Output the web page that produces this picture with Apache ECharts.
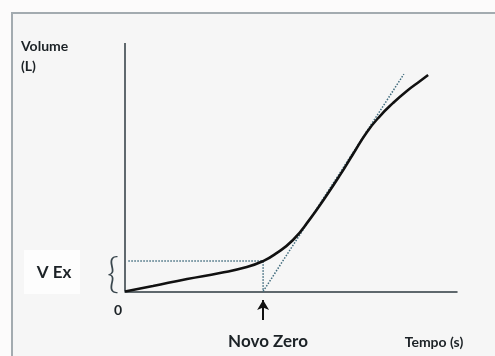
<!DOCTYPE html>
<html><head><meta charset="utf-8">
<script src="https://cdn.jsdelivr.net/npm/echarts@6/dist/echarts.min.js"></script>
<style>html,body{margin:0;padding:0;background:#fcfbfb}#c{width:495px;height:356px}</style>
</head><body><div id="c"></div>
<script>
// Volume curve (arbitrary units)
const curveX = [0, 0.84, 1.87, 2.86, 3.67, 4.16, 4.52, 5.06, 5.57, 6.02, 6.48, 6.87, 7.29, 7.68, 8.07, 8.49, 8.89, 9.13];
const curveY = [0, 0.22, 0.50, 0.74, 0.98, 1.22, 1.50, 2.07, 2.91, 3.76, 4.69, 5.53, 6.42, 7.06, 7.58, 8.07, 8.47, 8.71];
// Back-extrapolation
const vexLevel = 1.22;
const novoZeroX = 4.16;
const tangentX = [4.16, 8.40];
const tangentY = [0, 8.75];
const vexStartX = 0.1;
// Axes extents
const axisXRange = [0, 10];
const axisYRange = [0, 10];
const arrowY = [-1.15, -0.35];
// Labels
const labels = { yName1: 'Volume', yName2: '(L)', vex: 'V Ex', zero: '0', novoZero: 'Novo Zero', xName: 'Tempo (s)' };

const axisColor = '#2e3a40';
const dotColor = '#3f6a7c';
const textColor = '#1c2226';
const font = 'Lato, "Open Sans", sans-serif';

const chart = echarts.init(document.getElementById('c'), null, { renderer: 'canvas' });
const zip = (xs, ys) => xs.map((x, i) => [x, ys[i]]);

chart.setOption({
  animation: false,
  backgroundColor: '#fcfbfb',
  grid: { left: 125, top: 43, right: 38, bottom: 0 },
  xAxis: {
    type: 'value', min: axisXRange[0], max: axisXRange[1],
    axisLine: { show: true, onZero: true, lineStyle: { color: axisColor, width: 1.5 } },
    axisTick: { show: false }, axisLabel: { show: false }, splitLine: { show: false }
  },
  yAxis: {
    type: 'value', min: -2.6, max: axisYRange[1],
    axisLine: { show: false }, axisTick: { show: false }, axisLabel: { show: false }, splitLine: { show: false }
  },
  graphic: [
    { type: 'rect', z: -10, shape: { x: 12, y: 13, width: 600, height: 400 },
      style: { fill: '#f6f6f6', stroke: '#a3abb0', lineWidth: 2 } },
    { type: 'rect', z: -9, shape: { x: 24, y: 250, width: 56, height: 44 }, style: { fill: '#fdfdfd' } },
    { type: 'text', x: 21, y: 46, style: { text: labels.yName1, font: 'bold 14px ' + font, fill: textColor, verticalAlign: 'middle' } },
    { type: 'text', x: 21, y: 66, style: { text: labels.yName2, font: 'bold 14px ' + font, fill: textColor, verticalAlign: 'middle' } },
    { type: 'text', x: 54, y: 273, style: { text: labels.vex, font: 'bold 17px ' + font, fill: textColor, align: 'center', verticalAlign: 'middle' } },
    { type: 'text', x: 113, y: 274, style: { text: '{', font: '300 42px ' + font, fill: '#3a474e', align: 'center', verticalAlign: 'middle' } },
    { type: 'text', x: 118, y: 310, style: { text: labels.zero, font: 'bold 14px ' + font, fill: textColor, align: 'center', verticalAlign: 'middle' } },
    { type: 'text', x: 268, y: 342, style: { text: labels.novoZero, font: 'bold 17px ' + font, fill: textColor, align: 'center', verticalAlign: 'middle' } },
    { type: 'text', x: 434, y: 342, style: { text: labels.xName, font: 'bold 14px ' + font, fill: textColor, align: 'center', verticalAlign: 'middle' } }
  ],
  series: [
    { type: 'line', data: zip(axisXRange.map(() => 0), axisYRange), symbol: 'none',
      lineStyle: { color: axisColor, width: 1.5 }, z: 3 },
    { type: 'line', data: [[vexStartX, vexLevel], [novoZeroX, vexLevel], [novoZeroX, 0]], symbol: 'none',
      lineStyle: { color: dotColor, width: 1.5, type: 'dotted' }, z: 4 },
    { type: 'line', data: zip(tangentX, tangentY), symbol: 'none',
      lineStyle: { color: dotColor, width: 1.5, type: 'dotted' }, z: 4 },
    { type: 'line', data: zip(curveX, curveY), symbol: 'none', smooth: 0.5,
      lineStyle: { color: '#111111', width: 2.6 }, z: 5 },
    { type: 'line', data: [], symbol: 'none',
      markLine: { silent: true, symbol: ['none', 'arrow'], symbolSize: [9, 10], label: { show: false },
        lineStyle: { color: '#111111', width: 2, type: 'solid' },
        data: [[{ coord: [novoZeroX, arrowY[0]] }, { coord: [novoZeroX, arrowY[1]] }]] } }
  ]
});
</script></body></html>
